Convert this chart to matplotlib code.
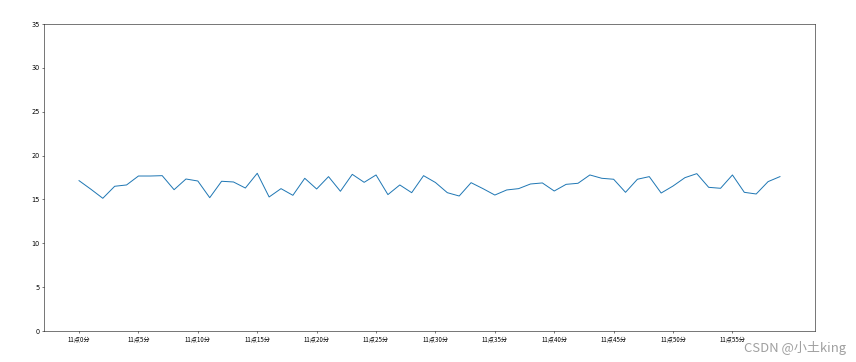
import matplotlib
matplotlib.use("Agg")
import matplotlib.pyplot as plt

# minute index 0..59 (11:00 - 11:59) and the reading at each minute
minutes = list(range(60))
values = [17.14, 16.16, 15.13, 16.50, 16.65, 17.67, 17.67, 17.71, 16.11, 17.33,
          17.10, 15.20, 17.07, 16.99, 16.30, 17.98, 15.28, 16.23, 15.47, 17.41,
          16.19, 17.60, 15.93, 17.86, 16.95, 17.79, 15.55, 16.65, 15.77, 17.71,
          16.93, 15.77, 15.39, 16.91, 16.23, 15.50, 16.08, 16.23, 16.76, 16.88,
          15.96, 16.72, 16.84, 17.79, 17.41, 17.30, 15.81, 17.30, 17.60, 15.73,
          16.53, 17.48, 17.94, 16.38, 16.27, 17.79, 15.81, 15.62, 17.03, 17.60]

tick_pos = list(range(0, 60, 5))
tick_labels = ["11点%d分" % m for m in tick_pos]

CJK = ["Noto Sans CJK SC", "DejaVu Sans"]

DPI = 47
fig = plt.figure(figsize=(856 / DPI, 362 / DPI), dpi=DPI)
ax = fig.add_axes([44 / 856, 1 - 331 / 362, (815 - 44) / 856, (331 - 24) / 362])

ax.plot(minutes, values)
ax.set_ylim(0, 35)
ax.set_xticks(tick_pos)
ax.set_xticklabels(tick_labels, family=CJK, fontsize=9.5)

# watermark from the source page
fig.text(0.988, 0.04, "CSDN @小土king", ha="right", va="center",
         fontsize=20, color="#a0a0a0", family=CJK)

fig.savefig("out.png", dpi=DPI)
